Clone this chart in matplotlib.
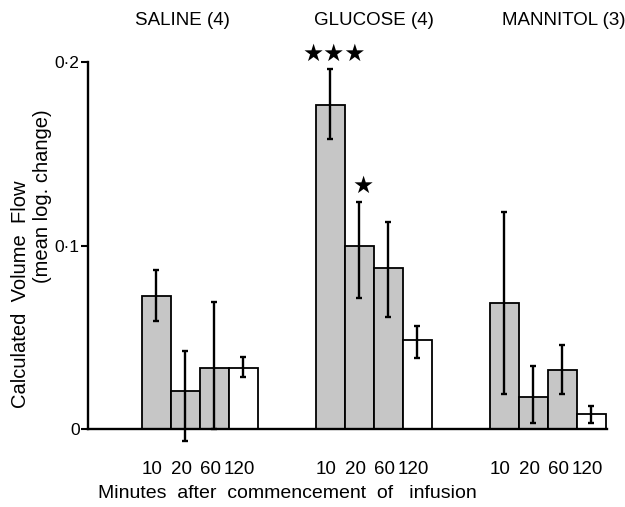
import matplotlib
matplotlib.use("Agg")
import matplotlib.pyplot as plt
import numpy as np

plt.rcParams['font.family'] = ['Liberation Sans', 'DejaVu Sans']

groups = ["SALINE (4)", "GLUCOSE (4)", "MANNITOL (3)"]
times = ["10", "20", "60", "120"]

saline_mean = [0.0725, 0.0207, 0.0332, 0.0332]
saline_upper = [0.0867, 0.0425, 0.0692, 0.0390]
saline_lower = [0.0589, -0.0065, 0.0, 0.0283]

glucose_mean = [0.1766, 0.0997, 0.0877, 0.0485]
glucose_upper = [0.1960, 0.1237, 0.1128, 0.0561]
glucose_lower = [0.1580, 0.0714, 0.0610, 0.0387]

mannitol_mean = [0.0687, 0.0174, 0.0322, 0.0082]
mannitol_upper = [0.1180, 0.0343, 0.0458, 0.0125]
mannitol_lower = [0.0190, 0.0033, 0.0190, 0.0033]

significance = {(1, 0): "★★★", (1, 1): "★"}

means = [saline_mean, glucose_mean, mannitol_mean]
uppers = [saline_upper, glucose_upper, mannitol_upper]
lowers = [saline_lower, glucose_lower, mannitol_lower]

fig = plt.figure(figsize=(6.25, 5.07), dpi=100)
ax = fig.add_axes([88/625, 1-429/507, (607-88)/625, (429-62)/507])

group_gap = 6.0
offsets = np.array([-1.5, -0.5, 0.5, 1.5])
face = ['#c6c6c6', '#c6c6c6', '#c6c6c6', 'white']

tick_pos, tick_lab = [], []
for g in range(3):
    xs = g * group_gap + offsets
    m = np.array(means[g]); up = np.array(uppers[g]); lo = np.array(lowers[g])
    ax.bar(xs, m, width=1.0, color=face, edgecolor='black', linewidth=1.3, zorder=2)
    ax.errorbar(xs, m, yerr=[m - lo, up - m], fmt='none', ecolor='black',
                elinewidth=1.7, capsize=2.5, capthick=1.7, zorder=3, clip_on=False)
    tick_pos += list(xs - 0.12)
    tick_lab += times
    for i in range(4):
        if (g, i) in significance:
            ax.text(xs[i] + 0.15, up[i] + 0.002, significance[(g, i)], ha='center', va='bottom',
                    fontsize=17, family=['DejaVu Sans'], clip_on=False)
    ax.text(g * group_gap + [-0.6, 0.0, 0.55][g], 1.0 + 42/367, groups[g],
            transform=ax.get_xaxis_transform(), ha='center', va='center', fontsize=13.5)

ax.set_xlim(-3.845, 14.05)
ax.set_ylim(0, 0.2)
ax.set_xticks(tick_pos)
ax.set_xticklabels(tick_lab, fontsize=13.5)
ax.tick_params(axis='x', length=0, pad=23)
ax.set_yticks([0, 0.1, 0.2])
ax.set_yticklabels(["0", "0·1", "0·2"], fontsize=12.5)
ax.tick_params(axis='y', direction='out', length=5, width=1.5, pad=1)

for s in ['top', 'right']:
    ax.spines[s].set_visible(False)
for s in ['left', 'bottom']:
    ax.spines[s].set_linewidth(1.7)

fig.text(287/625, 1-493/507, "Minutes  after  commencement  of   infusion",
         ha='center', va='center', fontsize=14)
fig.text(21/625, 1-294/507, "Calculated  Volume  Flow", rotation=90,
         ha='center', va='center', fontsize=14.5)
fig.text(43/625, 1-196/507, "(mean log. change)", rotation=90,
         ha='center', va='center', fontsize=14.5)

fig.savefig("out.png", dpi=100)
